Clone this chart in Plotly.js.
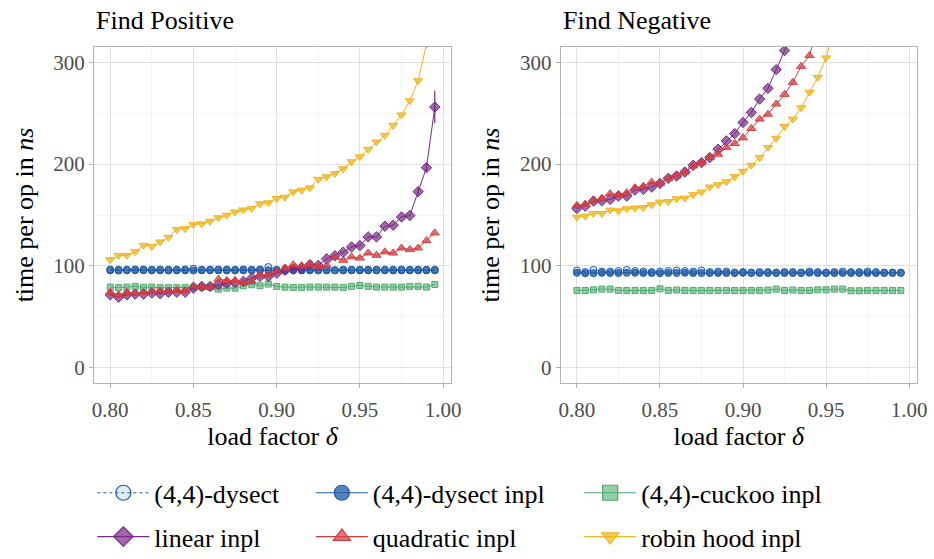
<!DOCTYPE html>
<html>
<head>
<meta charset="utf-8">
<script src="https://cdn.plot.ly/plotly-3.0.1.min.js"></script>
<style>html,body{margin:0;padding:0;background:#fff;}#chart{width:934px;height:559px;}</style>
</head>
<body>
<div id="chart"></div>
<script>
// ---- data ----
const loadFactors = [0.800,0.805,0.810,0.815,0.820,0.825,0.830,0.835,0.840,0.845,
  0.850,0.855,0.860,0.865,0.870,0.875,0.880,0.885,0.890,0.895,
  0.900,0.905,0.910,0.915,0.920,0.925,0.930,0.935,0.940,0.945,
  0.950,0.955,0.960,0.965,0.970,0.975,0.980,0.985,0.990,0.995];

const panelTitles = ["Find Positive", "Find Negative"];
const seriesNames = ["(4,4)-dysect", "(4,4)-dysect inpl", "(4,4)-cuckoo inpl", "linear inpl", "quadratic inpl", "robin hood inpl"];
const xTickLabels = ["0.80","0.85","0.90","0.95","1.00"];
const yTickLabels = ["0","100","200","300"];

// Find Positive
const dysectPos = [96.5,96.3,96.3,96.5,96.5,96.3,96.5,96.3,96.3,96.5,97.2,96.3,96.3,96.5,96.5,96.3,96.5,96.3,96.5,98.9,96.2,96.3,96.5,96.3,96.5,96.3,96.5,95.8,96.3,96.3,96.3,96.3,96.3,96.3,96.3,96.5,96.3,96.3,96.3,96.3];
const dysectInplPos = [95.6,95.4,95.6,95.7,95.8,95.5,95.6,95.5,95.6,95.6,95.5,95.6,95.7,95.6,95.5,95.6,95.6,95.6,95.7,95.5,95.4,95.5,95.7,95.6,95.6,95.5,95.6,95.6,95.5,95.6,95.6,95.6,95.6,95.6,95.5,95.6,95.6,95.6,95.6,95.6];
const cuckooPos = [79.2,78.6,79.2,79.9,79.0,79.2,78.6,78.6,78.6,78.6,79.2,79.2,79.2,77.2,78.2,78.2,80.5,81.5,80.5,82.2,79.8,79.1,78.9,78.9,79.2,79.2,79.2,79.2,78.9,79.9,80.8,79.9,79.2,79.2,79.2,79.2,79.9,79.9,79.2,81.8];
const linearPos = [71.6,69.3,71.6,72.3,72.3,73.3,72.6,74.2,74.2,74.2,78.2,79.8,79.8,81.5,83.0,83.8,84.8,88.0,89.7,89.7,93.0,95.6,96.9,98.0,101.2,100.5,107.0,110.0,113.5,118.6,120.0,128.5,128.5,139.0,140.0,148.0,149.5,173.0,196.5,256.0];
const linearPosErr = [0.5,0.5,0.5,0.5,0.5,0.5,0.5,0.5,0.5,0.5,0.5,0.5,0.5,0.5,0.5,0.5,0.5,0.5,0.5,0.5,0.5,0.5,0.5,0.5,0.5,0.5,0.5,0.5,0.5,0.5,0.5,0.5,0.5,0.5,0.5,0.5,1,3,4,16];
const quadraticPos = [74.2,71.6,74.2,73.0,74.2,74.9,75.6,74.9,75.9,75.6,80.5,80.0,79.0,87.0,85.8,85.8,83.8,84.8,91.3,91.3,94.6,98.0,101.2,100.2,101.2,99.6,100.3,108.4,105.5,108.9,107.7,112.7,110.4,113.8,112.7,117.6,116.0,117.6,124.8,132.4];
const robinPos = [106.0,110.3,110.3,114.0,120.2,119.2,123.5,128.0,135.7,136.6,140.6,141.3,143.9,147.2,149.8,153.0,155.0,156.5,161.0,162.0,166.2,167.5,172.7,174.4,176.7,185.0,187.5,190.8,195.4,202.3,207.2,214.5,221.7,228.3,238.1,248.3,262.1,281.8,318.0,400.0];

// Find Negative
const dysectNeg = [95.5,94.0,96.0,94.5,94.5,95.0,96.0,95.0,94.5,94.0,94.5,95.0,95.5,95.0,94.5,95.5,94.0,94.5,94.5,93.5,94.0,93.5,94.0,94.0,93.5,94.0,94.0,93.5,94.5,94.0,93.5,94.0,94.5,94.0,94.0,94.5,94.0,93.5,93.5,93.5];
const dysectInplNeg = [93.2,92.8,92.8,93.2,93.0,93.0,93.2,93.2,93.0,93.0,92.8,93.0,93.0,93.2,93.0,93.0,93.0,93.0,93.0,93.0,93.2,93.0,93.0,93.0,93.0,93.0,93.0,93.0,93.2,93.0,93.0,93.0,93.0,93.0,93.0,93.0,93.0,93.0,93.0,93.0];
const cuckooNeg = [75.9,75.9,76.5,77.2,77.2,75.9,75.9,75.9,75.9,75.9,77.5,75.9,76.3,75.9,75.9,75.9,75.9,75.9,75.9,75.9,75.9,75.9,75.9,76.3,77.2,75.9,76.3,75.9,75.9,76.5,76.5,77.2,77.2,75.6,75.6,75.9,75.9,75.9,75.9,75.9];
const linearNeg = [156.4,158.7,163.7,164.0,165.3,168.6,168.6,174.5,175.2,177.5,181.0,186.0,188.3,192.2,198.8,201.4,206.4,214.6,222.8,230.0,240.9,250.7,263.9,274.4,292.8,311.5,340.0];
const quadraticNeg = [159.4,160.7,163.7,166.6,170.9,170.2,171.9,176.8,178.4,182.4,181.0,185.7,188.3,192.2,198.2,201.4,206.4,209.7,216.2,220.2,225.8,235.0,244.2,249.0,259.0,268.5,280.3,296.0,306.6,335.0];
const robinNeg = [147.9,148.9,151.5,151.5,154.8,154.1,156.1,156.8,157.4,160.0,162.7,163.3,166.0,166.6,169.9,172.5,177.5,179.8,182.7,187.6,192.9,198.8,206.4,216.2,225.4,236.9,244.2,255.3,270.5,285.2,304.3,335.0];

// ---- styles ----
const styles = [
  {color:'#1f5aa6', fill:'rgba(31,90,166,0.12)', symbol:'circle', dash:'dot', size:7, legend:'legend'},
  {color:'#1f5aa6', fill:'rgba(31,90,166,0.75)', symbol:'circle', dash:'solid', size:7, legend:'legend2'},
  {color:'#4dab6d', fill:'rgba(77,171,109,0.6)', symbol:'square', dash:'solid', size:6, legend:'legend3'},
  {color:'#762a83', fill:'rgba(118,42,131,0.7)', symbol:'diamond', dash:'solid', size:8, legend:'legend'},
  {color:'#d43d3d', fill:'rgba(212,61,61,0.7)', symbol:'triangle-up', dash:'solid', size:8, legend:'legend2'},
  {color:'#f0b41c', fill:'rgba(240,180,28,0.7)', symbol:'triangle-down', dash:'solid', size:8, legend:'legend3'}
];

const posSeries = [dysectPos, dysectInplPos, cuckooPos, linearPos, quadraticPos, robinPos];
const negSeries = [dysectNeg, dysectInplNeg, cuckooNeg, linearNeg, quadraticNeg, robinNeg];

function makeTrace(vals, k, xa, ya, err) {
  const s = styles[k];
  const t = {
    type:'scatter', mode:'lines+markers',
    x: loadFactors.slice(0, vals.length), y: vals,
    xaxis: xa, yaxis: ya,
    name: seriesNames[k], legendgroup: 'g'+k, showlegend: false,
    line: {color: s.color, width: 1, dash: s.dash},
    marker: {symbol: s.symbol, size: s.size, color: s.fill, line: {color: s.color, width: 1}},
    cliponaxis: true
  };
  if (err) t.error_y = {type:'data', array: err, visible:true, color: s.color, thickness: 1.2, width: 0};
  return t;
}
// legend key entries (bigger symbols, as in the reference key)
function legendKey(k) {
  const s = styles[k];
  return {
    type:'scatter', mode:'lines+markers', x:[null], y:[null], xaxis:'x', yaxis:'y',
    name: seriesNames[k], legend: s.legend, legendgroup: 'g'+k, showlegend: true,
    line: {color: s.color, width: 1.2, dash: s.dash},
    marker: {symbol: s.symbol, size: 15, color: s.fill, line: {color: s.color, width: 1.2}}
  };
}

const traces = [];
posSeries.forEach((v,k) => traces.push(makeTrace(v, k, 'x', 'y', k===3 ? linearPosErr : null)));
negSeries.forEach((v,k) => traces.push(makeTrace(v, k, 'x2', 'y2', null)));
[0,3,1,4,2,5].forEach(k => traces.push(legendKey(k)));

const fontFam = '"Liberation Serif", "DejaVu Serif", serif';
const grid = '#e0e0e0', minorGrid = '#efefef', border = '#b3b3b3';

function xAxis(domain, anchor) {
  return {
    domain: domain, anchor: anchor, range: [0.79025, 1.00475],
    tickmode:'array', tickvals: xTickLabels.map(Number), ticktext: xTickLabels,
    showgrid:true, gridcolor:grid, gridwidth:1,
    minor:{dtick:0.025, tick0:0.8, showgrid:true, gridcolor:minorGrid, gridwidth:0.6, ticks:''},
    ticks:'outside', ticklen:4, tickcolor:border, tickwidth:1, ticklabelstandoff:4,
    showline:true, mirror:true, linecolor:border, linewidth:1, zeroline:false,
    tickfont:{family:fontFam, size:21, color:'#4d4d4d'},
    title:{text:'load factor <i>δ</i>', font:{family:fontFam, size:26, color:'#000'}, standoff:4},
    automargin:false, fixedrange:true
  };
}
function yAxis(anchor) {
  return {
    anchor: anchor, domain:[0,1], range:[-15, 315],
    tickmode:'array', tickvals: yTickLabels.map(Number), ticktext: yTickLabels,
    showgrid:true, gridcolor:grid, gridwidth:1,
    minor:{dtick:50, tick0:0, showgrid:true, gridcolor:minorGrid, gridwidth:0.6, ticks:''},
    ticks:'outside', ticklen:4, tickcolor:border, tickwidth:1,
    showline:true, mirror:true, linecolor:border, linewidth:1, zeroline:false,
    tickfont:{family:fontFam, size:21, color:'#4d4d4d'},
    title:{text:'time per op in <i>ns</i>', font:{family:fontFam, size:26, color:'#000'}, standoff:12},
    automargin:false, fixedrange:true
  };
}

const legendBase = {
  orientation:'v', xanchor:'left', yanchor:'top', y:-0.257,
  font:{family:fontFam, size:26, color:'#000'}, bgcolor:'rgba(0,0,0,0)',
  tracegroupgap:7, itemwidth:52, traceorder:'grouped'
};

const layout = {
  width:934, height:559,
  margin:{l:94, r:17, t:47, b:176, autoexpand:false},
  paper_bgcolor:'#fff', plot_bgcolor:'#fff',
  font:{family:fontFam},
  showlegend:true,
  xaxis: xAxis([0, 0.4338], 'y'),
  yaxis: yAxis('x'),
  xaxis2: xAxis([0.5671, 1], 'y2'),
  yaxis2: yAxis('x2'),
  legend: Object.assign({}, legendBase, {x:-0.002}),
  legend2: Object.assign({}, legendBase, {x:0.2635}),
  legend3: Object.assign({}, legendBase, {x:0.5895}),
  annotations: [
    {text: panelTitles[0], xref:'x domain', yref:'paper', x:0, y:1.08, xanchor:'left', yanchor:'middle', showarrow:false, font:{family:fontFam, size:26, color:'#000'}},
    {text: panelTitles[1], xref:'x2 domain', yref:'paper', x:0, y:1.08, xanchor:'left', yanchor:'middle', showarrow:false, font:{family:fontFam, size:26, color:'#000'}}
  ]
};

Plotly.newPlot('chart', traces, layout, {displayModeBar:false, staticPlot:true});
</script>
</body>
</html>
